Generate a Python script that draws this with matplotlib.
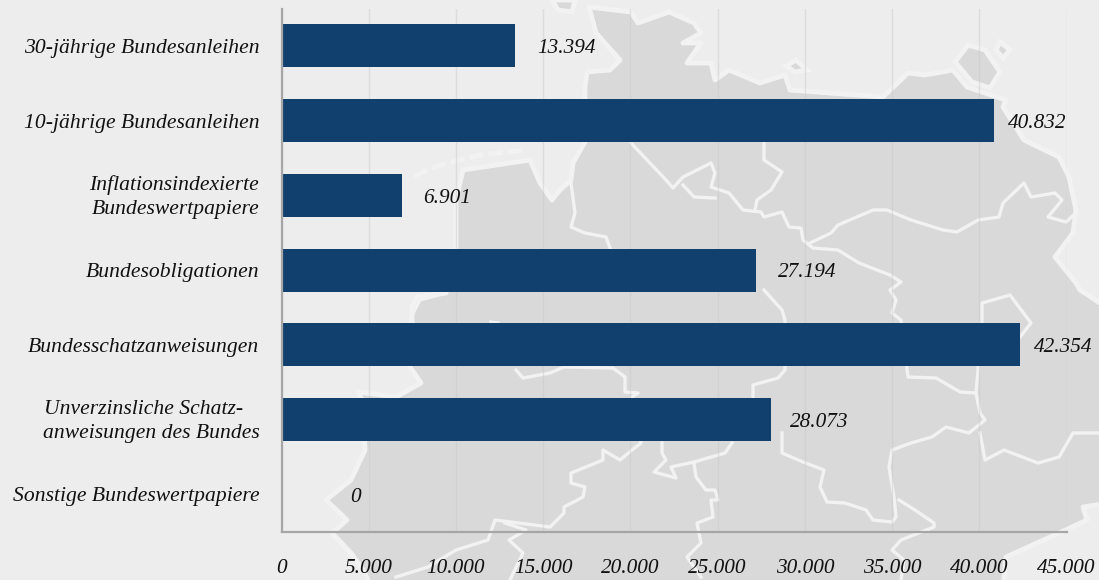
import matplotlib
matplotlib.use("Agg")
import matplotlib.pyplot as plt
from matplotlib.transforms import ScaledTranslation
import numpy as np

categories = ["30-jährige Bundesanleihen", "10-jährige Bundesanleihen",
              "Inflationsindexierte\nBundeswertpapiere", "Bundesobligationen",
              "Bundesschatzanweisungen", "Unverzinsliche Schatz-   \nanweisungen des Bundes",
              "Sonstige Bundeswertpapiere"]
values = [13394, 40832, 6901, 27194, 42354, 28073, 0]
value_labels = ["13.394", "40.832", "6.901", "27.194", "42.354", "28.073", "0"]
x_ticks = [0, 5000, 10000, 15000, 20000, 25000, 30000, 35000, 40000, 45000]
x_tick_labels = ["0", "5.000", "10.000", "15.000", "20.000", "25.000",
                 "30.000", "35.000", "40.000", "45.000"]

# Abstand Balkenende -> Mitte der Beschriftung in Pixel
label_gaps = [51, 43, 45, 51, 43, 48, 74]

land = [(456, 248), (456, 200), (463, 170), (530, 160), (540, 183), (552, 200), (560, 190), (571, 180),
        (573, 163), (585, 142), (585, 87), (587, 72), (610, 70), (620, 60), (596, 33), (589, 7), (631, 12),
        (638, 23), (669, 12), (694, 23), (701, 33), (683, 43), (701, 43), (687, 63), (711, 63), (715, 80),
        (729, 70), (760, 83), (785, 75), (790, 90), (883, 97), (908, 73), (925, 75), (953, 70), (967, 87),
        (1006, 100), (1003, 107), (1024, 140), (1059, 157), (1069, 177), (1076, 210), (1073, 233),
        (1055, 257), (1076, 283), (1080, 290), (1100, 303), (1110, 303), (1110, 503), (1083, 507),
        (1087, 520), (1059, 533), (1006, 557), (1003, 590), (372, 590), (365, 573), (351, 553), (332, 533),
        (347, 520), (326, 500), (351, 480), (365, 450), (362, 400), (358, 392), (396, 397), (421, 383),
        (410, 367), (412, 330), (412, 307), (417, 297), (446, 293)]
islands = [[(955, 62), (968, 45), (985, 50), (1000, 72), (990, 88), (972, 82)],
           [(786, 66), (796, 60), (807, 70), (795, 72)],
           [(1000, 42), (1010, 50), (1003, 58), (996, 50)],
           [(552, 0), (575, 0), (572, 12), (558, 10)]]
borders = [
    [(631, 143), (666, 180), (673, 188), (683, 177), (711, 163), (715, 173), (711, 187), (729, 193),
     (743, 210), (761, 212), (764, 217), (782, 212), (789, 227), (801, 228), (803, 240), (813, 248),
     (838, 250), (859, 263), (890, 275), (901, 282), (890, 290), (896, 300), (892, 313), (901, 320),
     (908, 377), (936, 378), (960, 392), (976, 393), (980, 413), (985, 420), (969, 433), (946, 427),
     (932, 437), (911, 443), (892, 450), (889, 467), (894, 497), (896, 517), (892, 522), (873, 520),
     (866, 510), (845, 503), (827, 502), (820, 487), (824, 470), (803, 462), (782, 453), (782, 433)],
    [(683, 185), (694, 197), (715, 198)],
    [(764, 143), (764, 160), (782, 172), (771, 190), (757, 200), (755, 210)],
    [(810, 243), (831, 233), (838, 225), (873, 210), (887, 210), (911, 220), (943, 230), (957, 232),
     (978, 220), (999, 217), (1003, 203), (1024, 183), (1031, 197), (1055, 193), (1062, 200), (1048, 217),
     (1066, 222), (1076, 213)],
    [(764, 290), (782, 310), (785, 320), (785, 370), (778, 378), (753, 385), (753, 397), (760, 433)],
    [(899, 500), (915, 510), (934, 523), (934, 527), (901, 540), (892, 550), (904, 560), (901, 580)],
    [(980, 433), (985, 460), (1004, 450), (1038, 463), (1059, 457), (1073, 433), (1100, 433)],
    [(976, 393), (982, 323), (982, 303), (1010, 295), (1031, 323), (1020, 337)],
    [(516, 370), (523, 378), (550, 373), (564, 367), (613, 368), (625, 377), (625, 392), (638, 393),
     (632, 397), (641, 443), (632, 450), (620, 460), (603, 450), (603, 460), (571, 473), (571, 483),
     (585, 487), (583, 497), (564, 507), (564, 513), (550, 527), (495, 520), (488, 540), (456, 550),
     (428, 567), (396, 577)],
    [(505, 523), (526, 530), (509, 540), (523, 553), (510, 580)],
    [(662, 443), (662, 453), (666, 460), (654, 472), (676, 478), (671, 467), (694, 462), (725, 453), (732, 443)],
    [(694, 463), (696, 477), (706, 490), (715, 490), (718, 500), (711, 500), (713, 517), (697, 523),
     (701, 543), (687, 557), (701, 577)],
    [(571, 183), (575, 213), (571, 227), (585, 233), (606, 237), (610, 248)],
    [(446, 293), (420, 300), (412, 315)],
    [(491, 322), (498, 323)],
]
frisian = [(414, 176), (440, 165), (480, 155), (526, 150)]

plt.rcParams['font.family'] = ['Liberation Serif', 'DejaVu Serif']
plt.rcParams['font.style'] = 'italic'

BG = "#ededed"
HALO = "#f2f2f2"
W, H = 1099, 580

fig = plt.figure(figsize=(W/100, H/100), dpi=100, facecolor=BG)

# Karte unter dem eigentlichen Diagramm
bg = fig.add_axes([0, 0, 1, 1], zorder=0)
bg.set_xlim(0, W)
bg.set_ylim(H, 0)
bg.axis("off")
bg.fill(*zip(*land), facecolor="#d9d9d9", edgecolor=HALO, linewidth=3.5, joinstyle="round")
for isle in islands:
    bg.fill(*zip(*isle), facecolor="#d9d9d9", edgecolor=HALO, linewidth=3.5)
for line in borders:
    bg.plot(*zip(*line), color=HALO, linewidth=2.4, solid_joinstyle="round")
bg.plot(*zip(*frisian), color=HALO, linewidth=3.5, linestyle=(0, (3, 1)))

left, right, top, bottom = 281.5, 1066.5, 8.5, 531.7
ax = fig.add_axes([left/W, 1-bottom/H, (right-left)/W, (bottom-top)/H], zorder=1)
ax.patch.set_alpha(0)
y = np.arange(len(categories))
ax.set_xlim(0, 45000)
ax.set_ylim(len(categories)-0.5, -0.5)
ax.set_axisbelow(True)
ax.grid(axis="x", color="#c8c8c8", alpha=0.45, linewidth=1.0)
ax.barh(y, values, height=0.575, color="#11406f")

for sp in ["top", "right"]:
    ax.spines[sp].set_visible(False)
for sp in ["left", "bottom"]:
    ax.spines[sp].set_color("#a6a6a6")
    ax.spines[sp].set_linewidth(1.6)

ax.set_yticks(y, categories, fontsize=15.6, color="#111111", linespacing=1.32)
ax.set_xticks(x_ticks, x_tick_labels, fontsize=15.3, color="#111111")
ax.tick_params(axis="y", length=0, pad=16)
ax.tick_params(axis="x", length=0, pad=20)

# zweizeilige Beschriftungen sitzen etwas hoeher
for label in ax.get_yticklabels():
    if "\n" in label.get_text():
        label.set_transform(label.get_transform() + ScaledTranslation(0, 3/100, fig.dpi_scale_trans))

for n, v in enumerate(values):
    ax.annotate(value_labels[n], (v, n), xytext=(label_gaps[n]*0.72, -2),
                textcoords="offset points", ha="center", va="center",
                fontsize=15.3, color="#111111")

fig.savefig("out.png", dpi=100, facecolor=BG)
